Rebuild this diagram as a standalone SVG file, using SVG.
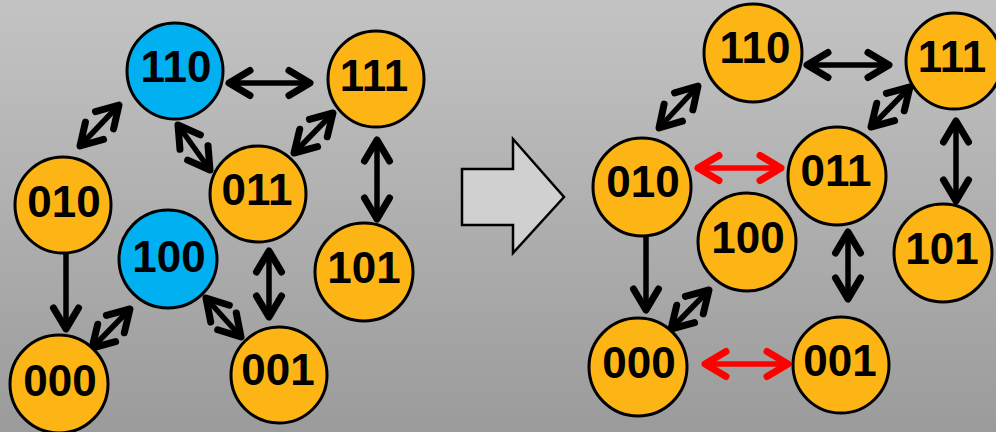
<svg xmlns="http://www.w3.org/2000/svg" width="996" height="432" viewBox="0 0 996 432">
  <defs>
    <linearGradient id="bg" x1="0" y1="0" x2="0" y2="1">
      <stop offset="0" stop-color="#c3c3c3"/>
      <stop offset="1" stop-color="#9b9b9b"/>
    </linearGradient>
    <marker id="head" markerUnits="userSpaceOnUse" viewBox="-30 -20 36 40" refX="0" refY="0" markerWidth="36" markerHeight="40" orient="auto-start-reverse" overflow="visible">
      <path d="M-21,-12.5 L0,0 L-21,12.5" fill="none" stroke="#000" stroke-width="7" stroke-linecap="round" stroke-linejoin="round"/>
    </marker>
    <marker id="headRed" markerUnits="userSpaceOnUse" viewBox="-30 -20 36 40" refX="0" refY="0" markerWidth="36" markerHeight="40" orient="auto-start-reverse" overflow="visible">
      <path d="M-21,-12.5 L0,0 L-21,12.5" fill="none" stroke="#ff0000" stroke-width="7" stroke-linecap="round" stroke-linejoin="round"/>
    </marker>
  </defs>
  <style>
    .node circle { stroke: #000; stroke-width: 3; }
    .on circle { fill: #00b0f0; }
    .off circle { fill: #fdb515; }
    .node text { font-family: "Liberation Sans", Arial, sans-serif; font-weight: bold; font-size: 44px; text-anchor: middle; fill: #000; }
    .edge { stroke: #000; stroke-width: 5.5; fill: none; }
    .both { marker-start: url(#head); marker-end: url(#head); }
    .one { marker-end: url(#head); }
    .red { stroke: #ff0000; marker-start: url(#headRed); marker-end: url(#headRed); }
  </style>

  <rect x="0" y="0" width="996" height="432" fill="url(#bg)"/>

  <!-- connectors -->
  <g id="connectors">
    <!-- left graph -->
    <line class="edge both" x1="229" y1="83" x2="310" y2="83"/>
    <line class="edge both" x1="80" y1="146" x2="119" y2="105"/>
    <line class="edge both" x1="178" y1="125" x2="210" y2="170"/>
    <line class="edge both" x1="294" y1="153" x2="333" y2="113"/>
    <line class="edge both" x1="377" y1="140" x2="377" y2="219"/>
    <line class="edge one" x1="66" y1="253" x2="66" y2="329"/>
    <line class="edge both" x1="92" y1="348" x2="130" y2="309"/>
    <line class="edge both" x1="206" y1="298" x2="241" y2="337"/>
    <line class="edge both" x1="269" y1="251" x2="269" y2="317"/>
    <!-- right graph -->
    <line class="edge both" x1="807" y1="65" x2="889" y2="65"/>
    <line class="edge both" x1="659" y1="128" x2="698" y2="86"/>
    <line class="edge both" x1="871" y1="127" x2="910" y2="87"/>
    <line class="edge both" x1="956" y1="121" x2="956" y2="201"/>
    <line class="edge red" x1="698" y1="168" x2="781" y2="168"/>
    <line class="edge one" x1="646" y1="235" x2="646" y2="310"/>
    <line class="edge both" x1="671" y1="329" x2="709" y2="290"/>
    <line class="edge both" x1="848" y1="232" x2="848" y2="299"/>
    <line class="edge red" x1="705" y1="364" x2="788" y2="364"/>
  </g>

  <!-- transition arrow -->
  <g id="transition">
    <polygon points="462,169 513,169 513,139 564,197 513,253 513,225 462,225" fill="#d0d0d0" stroke="#000" stroke-width="2.5" stroke-linejoin="miter"/>
  </g>

  <!-- left graph nodes -->
  <g id="L110" class="node on"><circle cx="175" cy="71" r="48"/><text x="176" y="82">110</text></g>
  <g id="L111" class="node off"><circle cx="376" cy="79" r="48"/><text x="374" y="91">111</text></g>
  <g id="L010" class="node off"><circle cx="63" cy="205" r="48"/><text x="64" y="217">010</text></g>
  <g id="L011" class="node off"><circle cx="258" cy="194" r="48"/><text x="257" y="205">011</text></g>
  <g id="L100" class="node on"><circle cx="168" cy="259" r="49"/><text x="169" y="272">100</text></g>
  <g id="L101" class="node off"><circle cx="364" cy="272" r="49"/><text x="364" y="283">101</text></g>
  <g id="L000" class="node off"><circle cx="59" cy="384" r="49"/><text x="60" y="396">000</text></g>
  <g id="L001" class="node off"><circle cx="279" cy="375" r="48"/><text x="278" y="385">001</text></g>

  <!-- right graph nodes -->
  <g id="R110" class="node off"><circle cx="753" cy="53" r="49"/><text x="755" y="63">110</text></g>
  <g id="R111" class="node off"><circle cx="954" cy="61" r="48"/><text x="952" y="72">111</text></g>
  <g id="R010" class="node off"><circle cx="642" cy="187" r="49"/><text x="643" y="197">010</text></g>
  <g id="R011" class="node off"><circle cx="837" cy="176" r="49"/><text x="836" y="186">011</text></g>
  <g id="R100" class="node off"><circle cx="747" cy="242" r="49"/><text x="748" y="253">100</text></g>
  <g id="R101" class="node off"><circle cx="943" cy="253" r="49"/><text x="942" y="264">101</text></g>
  <g id="R000" class="node off"><circle cx="638" cy="367" r="49"/><text x="639" y="378">000</text></g>
  <g id="R001" class="node off"><circle cx="841" cy="365" r="48"/><text x="840" y="376">001</text></g>
</svg>
